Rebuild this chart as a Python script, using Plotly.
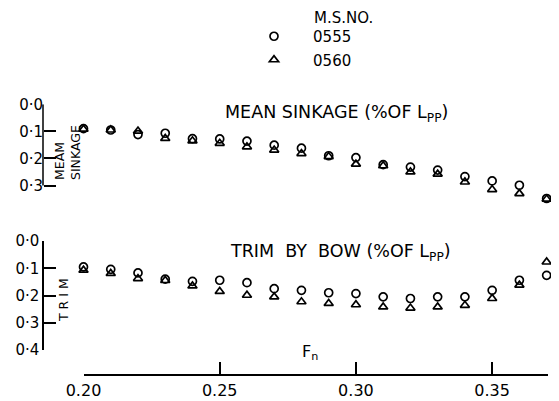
import plotly.graph_objects as go

# page body has an 8px default margin; figure drawn 551x393 so the page is 559x401
OFF = 8
W, H = 551, 393
FONT = "DejaVu Sans"

fn = [0.20, 0.21, 0.22, 0.23, 0.24, 0.25, 0.26, 0.27, 0.28, 0.29,
      0.30, 0.31, 0.32, 0.33, 0.34, 0.35, 0.36, 0.37]

sink_0555 = [0.090, 0.095, 0.112, 0.107, 0.127, 0.128, 0.136, 0.151, 0.162, 0.190,
             0.197, 0.223, 0.232, 0.243, 0.267, 0.283, 0.299, 0.348]
sink_0560 = [0.092, 0.095, 0.099, 0.126, 0.135, 0.144, 0.157, 0.169, 0.182, 0.193,
             0.221, 0.227, 0.250, 0.258, 0.287, 0.315, 0.330, 0.350]

trim_0555 = [0.095, 0.104, 0.117, 0.140, 0.148, 0.144, 0.153, 0.175, 0.181, 0.190,
             0.193, 0.205, 0.211, 0.205, 0.205, 0.181, 0.144, 0.126]
trim_0560 = [0.107, 0.119, 0.138, 0.145, 0.165, 0.185, 0.199, 0.205, 0.223, 0.229,
             0.234, 0.242, 0.246, 0.242, 0.236, 0.211, 0.162, 0.077]

x_ticks = [0.20, 0.25, 0.30, 0.35]
x_ticktext = ["0.20", "0.25", "0.30", "0.35"]
sink_ticks = [0.0, 0.1, 0.2, 0.3]
sink_ticktext = ["0·0", "0·1", "0·2", "0·3"]
trim_ticks = [0.0, 0.1, 0.2, 0.3, 0.4]
trim_ticktext = ["0·0", "0·1", "0·2", "0·3", "0·4"]


def px(x):
    return (x - OFF) / W


def py(y):
    return 1 - (y - OFF) / H


# sinkage scale: 0.0 at y=104.3, 0.3 at y=185.5 (data run past 0.3)
SINK_TOP, SINK_PER = 104.3, (185.5 - 104.3) / 0.3
SINK_MAX = 0.37

mk_c = dict(symbol="circle-open", size=8, color="black", line=dict(width=1.7, color="black"))
mk_t = dict(symbol="triangle-up-open", size=8, color="black", line=dict(width=1.7, color="black"))
PAD = "\u00a0" * 4

fig = go.Figure()
fig.add_trace(go.Scatter(x=fn, y=sink_0555, mode="markers", marker=mk_c, name=PAD + "0555",
                         legendgroup="a", cliponaxis=False, xaxis="x", yaxis="y"))
fig.add_trace(go.Scatter(x=fn, y=sink_0560, mode="markers", marker=mk_t, name=PAD + "0560",
                         legendgroup="b", cliponaxis=False, xaxis="x", yaxis="y"))
fig.add_trace(go.Scatter(x=fn, y=trim_0555, mode="markers", marker=mk_c, name="0555",
                         showlegend=False, cliponaxis=False, xaxis="x", yaxis="y2"))
fig.add_trace(go.Scatter(x=fn, y=trim_0560, mode="markers", marker=mk_t, name="0560",
                         showlegend=False, cliponaxis=False, xaxis="x", yaxis="y2"))

yax_common = dict(anchor="free", position=px(43), linecolor="black",
                  linewidth=1.5, ticks="inside", ticklen=12, tickwidth=1.5,
                  tickcolor="black", showgrid=False, zeroline=False, automargin=False,
                  tickfont=dict(family=FONT, size=15, color="black"))

fig.update_layout(
    width=W, height=H,
    margin=dict(l=0, r=0, t=0, b=0, pad=0, autoexpand=False),
    paper_bgcolor="white", plot_bgcolor="white",
    font=dict(family=FONT, color="black"),
    xaxis=dict(domain=[px(83.5), px(548)], range=[0.20, 0.3705],
               anchor="free", position=py(375), showline=True, linecolor="black",
               linewidth=1.5, ticks="inside", ticklen=12, tickwidth=1.5, tickcolor="black",
               tickvals=x_ticks, ticktext=x_ticktext, showgrid=False, zeroline=False,
               automargin=False, ticklabelstandoff=1,
               tickfont=dict(family=FONT, size=16, color="black")),
    yaxis=dict(domain=[py(SINK_TOP + SINK_MAX * SINK_PER), py(SINK_TOP)],
               range=[SINK_MAX, 0.0], showline=False,
               tickvals=sink_ticks, ticktext=sink_ticktext, **yax_common),
    yaxis2=dict(domain=[py(350), py(241)], range=[0.4, 0.0], showline=True,
                tickvals=trim_ticks, ticktext=trim_ticktext, **yax_common),
    showlegend=True,
    legend=dict(x=px(254), y=py(20), xanchor="left", yanchor="top",
                bgcolor="rgba(0,0,0,0)", borderwidth=0, tracegroupgap=1,
                traceorder="grouped",
                font=dict(family=FONT, size=15, color="black")),
    shapes=[
        dict(type="line", xref="paper", yref="y", x0=px(43), x1=px(43),
             y0=sink_ticks[0], y1=sink_ticks[-1], line=dict(color="black", width=1.5)),
    ],
    annotations=[
        dict(text="MEAN SINKAGE (%OF L<sub>PP</sub>)", x=px(223), y=py(113),
             xref="paper", yref="paper", xanchor="left", yanchor="middle",
             showarrow=False, font=dict(family=FONT, size=17.5)),
        dict(text="TRIM\u00a0 BY\u00a0 BOW (%OF L<sub>PP</sub>)", x=px(228), y=py(252),
             xref="paper", yref="paper", xanchor="left", yanchor="middle",
             showarrow=False, font=dict(family=FONT, size=17.5)),
        dict(text="MEAM<br>SINKAGE", x=px(67), y=py(153), textangle=-90, align="left",
             xref="paper", yref="paper", xanchor="center", yanchor="middle",
             showarrow=False, font=dict(family=FONT, size=12.5)),
        dict(text="T R I M", x=px(63), y=py(300), textangle=-90,
             xref="paper", yref="paper", xanchor="center", yanchor="middle",
             showarrow=False, font=dict(family=FONT, size=12.5)),
        dict(text="M.S.NO.", x=px(312), y=py(18),
             xref="paper", yref="paper", xanchor="left", yanchor="middle",
             showarrow=False, font=dict(family=FONT, size=15)),
        dict(text="F<sub>n</sub>", x=px(300), y=py(352),
             xref="paper", yref="paper", xanchor="left", yanchor="middle",
             showarrow=False, font=dict(family=FONT, size=16)),
    ],
)

fig.write_html("out.html")
